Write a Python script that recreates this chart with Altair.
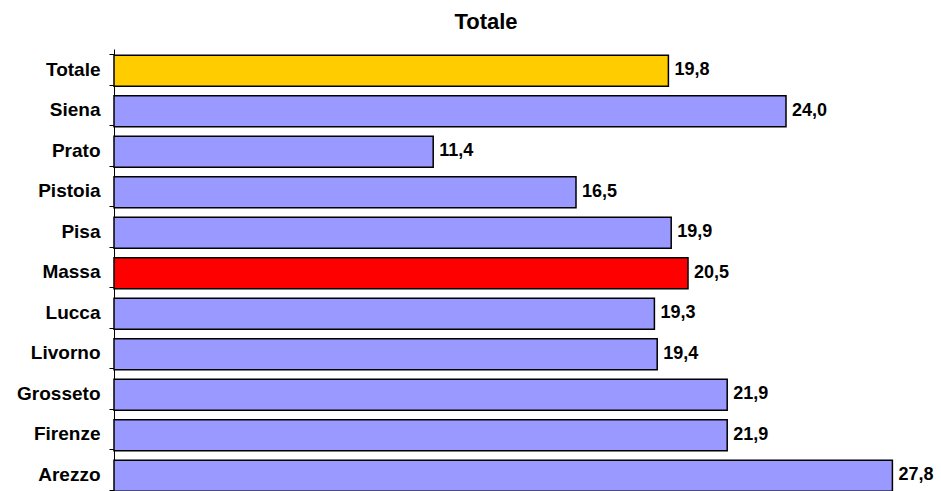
import altair as alt
import pandas as pd

# Province values (percent), listed top to bottom
provinces = ["Totale", "Siena", "Prato", "Pistoia", "Pisa", "Massa",
             "Lucca", "Livorno", "Grosseto", "Firenze", "Arezzo"]
values = [19.8, 24.0, 11.4, 16.5, 19.9, 20.5, 19.3, 19.4, 21.9, 21.9, 27.8]
kinds = ["totale", "provincia", "provincia", "provincia", "provincia", "evidenza",
         "provincia", "provincia", "provincia", "provincia", "provincia"]

kind_domain = ["totale", "evidenza", "provincia"]
kind_colors = ["#FFCC00", "#FF0000", "#9999FF"]

df = pd.DataFrame({"provincia": provinces, "valore": values, "tipo": kinds})

FONT = "Liberation Sans"
PX_PER_UNIT = 28
X_MAX = 29
BAND = 40.5

y_enc = alt.Y(
    "provincia:N",
    sort=provinces,
    scale=alt.Scale(range=[0, BAND * len(provinces)],
                    paddingInner=0.235, paddingOuter=0.1175),
    axis=alt.Axis(
        title=None,
        domainColor="black", domainWidth=1,
        tickColor="black", tickWidth=1, tickSize=5, tickBand="extent",
        labelFont=FONT, labelFontSize=19, labelFontWeight="bold",
        labelColor="black", labelPadding=9,
    ),
)
x_enc = alt.X("valore:Q", scale=alt.Scale(domain=[0, X_MAX], nice=False, zero=True), axis=None)

base = alt.Chart(df).encode(y=y_enc, x=x_enc)

bars = base.mark_bar(stroke="black", strokeWidth=1.5, yOffset=1.5).encode(
    color=alt.Color("tipo:N", scale=alt.Scale(domain=kind_domain, range=kind_colors), legend=None)
)

labels = base.transform_calculate(
    etichetta="replace(format(datum.valore, '.1f'), '.', ',')"
).mark_text(
    align="left", baseline="middle", dx=6, dy=1,
    font=FONT, fontSize=18, fontWeight="bold", color="black",
).encode(text="etichetta:N")

chart = (bars + labels).properties(
    width=PX_PER_UNIT * X_MAX,
    height=442,
    title=alt.TitleParams("Totale", font=FONT, fontSize=22, fontWeight="bold",
                          color="black", anchor="middle", dx=-34, offset=6),
    autosize=alt.AutoSizeParams(type="none"),
    padding={"left": 114, "top": 49, "right": 15, "bottom": 0},
).configure_view(stroke=None)

chart.save("out.html", embed_options={"renderer": "svg", "actions": False})
